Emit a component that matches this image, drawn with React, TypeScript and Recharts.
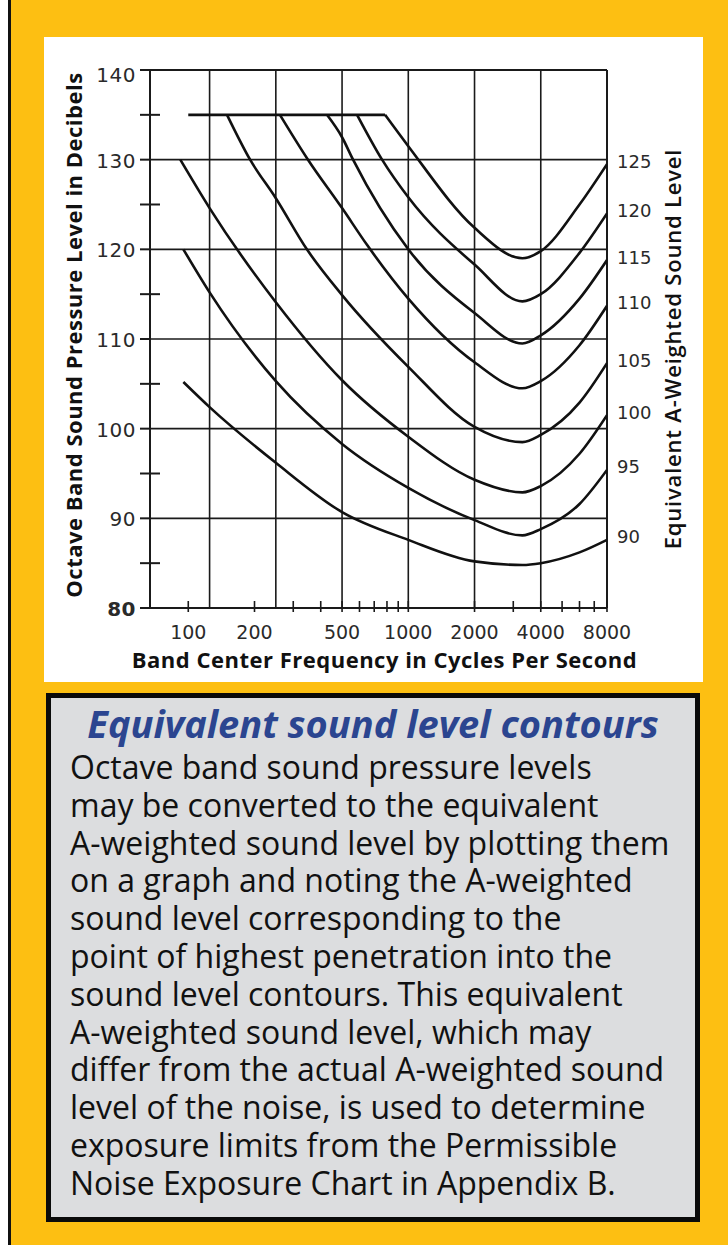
import { LineChart, Line, XAxis, YAxis, ReferenceLine, Label } from "recharts"

// octave band centres (vertical grid) and axis ticks
const bandCenters = [125, 250, 500, 1000, 2000, 4000, 8000]
const xTickValues = [100, 200, 300, 400, 500, 600, 700, 800, 900, 1000, 2000, 3000, 4000, 5000, 6000, 7000, 8000]
const xTickLabels = [100, 200, 500, 1000, 2000, 4000, 8000]
const yTickValues = [80, 85, 90, 95, 100, 105, 110, 115, 120, 125, 130, 135, 140]
const yGridValues = [90, 100, 110, 120, 130, 140]

// flat 135 dB ceiling shared by the upper contours
const ceiling = [
  { f: 100, db: 135 },
  { f: 784, db: 135 },
]

// contours, label = equivalent A-weighted level
const contour90 = [
  { f: 95, db: 105.2 }, { f: 125, db: 102.4 }, { f: 250, db: 96.2 }, { f: 500, db: 90.7 },
  { f: 1000, db: 87.6 }, { f: 2000, db: 85.2 }, { f: 3300, db: 84.8 }, { f: 4000, db: 85.0 },
  { f: 6000, db: 86.2 }, { f: 8000, db: 87.6 },
]
const contour95 = [
  { f: 95, db: 120 }, { f: 125, db: 115.2 }, { f: 250, db: 105.3 }, { f: 500, db: 98.3 },
  { f: 1000, db: 93.4 }, { f: 2000, db: 89.8 }, { f: 3300, db: 88.1 }, { f: 4000, db: 88.8 },
  { f: 6000, db: 91.6 }, { f: 8000, db: 95.4 },
]
const contour100 = [
  { f: 92, db: 130 }, { f: 125, db: 124.6 }, { f: 250, db: 114.1 }, { f: 500, db: 105.4 },
  { f: 1000, db: 99.1 }, { f: 2000, db: 94.3 }, { f: 3300, db: 92.9 }, { f: 4000, db: 93.6 },
  { f: 6000, db: 97.2 }, { f: 8000, db: 101.5 },
]
const contour105 = [
  { f: 150, db: 135 }, { f: 191, db: 130 }, { f: 250, db: 125.7 }, { f: 346, db: 120 },
  { f: 500, db: 114.9 }, { f: 1000, db: 106.9 }, { f: 2000, db: 100.2 }, { f: 3300, db: 98.5 },
  { f: 4000, db: 99.3 }, { f: 6000, db: 102.9 }, { f: 8000, db: 107.3 },
]
const contour110 = [
  { f: 261, db: 135 }, { f: 350, db: 130 }, { f: 500, db: 124.6 }, { f: 649, db: 120.5 },
  { f: 1000, db: 114.5 }, { f: 2000, db: 107.4 }, { f: 3300, db: 104.5 }, { f: 4000, db: 105.3 },
  { f: 6000, db: 109.3 }, { f: 8000, db: 113.7 },
]
const contour115 = [
  { f: 427, db: 135 }, { f: 500, db: 132.5 }, { f: 561, db: 130 }, { f: 1000, db: 120 },
  { f: 2000, db: 112.9 }, { f: 3300, db: 109.5 }, { f: 4000, db: 110.4 }, { f: 6000, db: 114.5 },
  { f: 8000, db: 118.8 },
]
const contour120 = [
  { f: 585, db: 135 }, { f: 760, db: 130 }, { f: 1000, db: 125.8 }, { f: 2000, db: 118.3 },
  { f: 3300, db: 114.2 }, { f: 4000, db: 115.0 }, { f: 6000, db: 119.6 }, { f: 8000, db: 124 },
]
const contour125 = [
  { f: 784, db: 135 }, { f: 1000, db: 131.5 }, { f: 2000, db: 122.4 }, { f: 3300, db: 119 },
  { f: 4000, db: 119.8 }, { f: 6000, db: 125 }, { f: 8000, db: 129.5 },
]

const contours = [
  { name: "90", data: contour90 },
  { name: "95", data: contour95 },
  { name: "100", data: contour100 },
  { name: "105", data: contour105 },
  { name: "110", data: contour110 },
  { name: "115", data: contour115 },
  { name: "120", data: contour120 },
  { name: "125", data: contour125 },
]

const bodyLines = [
  "Octave band sound pressure levels",
  "may be converted to the equivalent",
  "A-weighted sound level by plotting them",
  "on a graph and noting the A-weighted",
  "sound level corresponding to the",
  "point of highest penetration into the",
  "sound level contours. This equivalent",
  "A-weighted sound level, which may",
  "differ from the actual A-weighted sound",
  "level of the noise, is used to determine",
  "exposure limits from the Permissible",
  "Noise Exposure Chart in Appendix B.",
]

const INK = "#1a1a1a"
const tickFont = "'DejaVu Sans', sans-serif"
const titleFont = "'Open Sans', sans-serif"

function YTick(props: any) {
  const { x, y, payload } = props
  const v = payload.value
  const major = v % 10 === 0
  return (
    <g>
      <line x1={x - 10} x2={major ? x : x + 10} y1={y} y2={y} stroke={INK} strokeWidth={2} />
      {major && (
        <text
          x={x - 14}
          y={v === 140 ? y + 5 : y + 1}
          textAnchor="end"
          dominantBaseline="central"
          fontFamily={tickFont}
          fontSize={20}
          letterSpacing={0.5}
          fontWeight={v === 80 ? 700 : 400}
          fill="#2a2a2a"
        >
          {v}
        </text>
      )}
    </g>
  )
}

function XTick(props: any) {
  const { x, y, payload } = props
  const v = payload.value
  return (
    <g>
      <line x1={x} x2={x} y1={y - 7} y2={y + 4} stroke={INK} strokeWidth={1.6} />
      {xTickLabels.includes(v) && (
        <text
          x={x}
          y={y + 24}
          textAnchor="middle"
          dominantBaseline="central"
          fontFamily={tickFont}
          fontSize={19}
          fill="#2a2a2a"
        >
          {v}
        </text>
      )}
    </g>
  )
}

function LeftTitle(props: any) {
  const { x, y, height } = props.viewBox
  const cx = x - 17
  const cy = y + height / 2 - 4
  return (
    <text
      x={cx}
      y={cy}
      transform={`rotate(-90 ${cx} ${cy})`}
      textAnchor="middle"
      dominantBaseline="central"
      fontFamily={titleFont}
      fontSize={22}
      letterSpacing={0.5}
      fontWeight={700}
      fill="#111"
    >
      Octave Band Sound Pressure Level in Decibels
    </text>
  )
}

function RightTitle(props: any) {
  const { x, y, height } = props.viewBox
  const cx = x + 65
  const cy = y + height / 2 + 10
  return (
    <text
      x={cx}
      y={cy}
      transform={`rotate(-90 ${cx} ${cy})`}
      textAnchor="middle"
      dominantBaseline="central"
      fontFamily={titleFont}
      fontSize={22}
      letterSpacing={0.8}
      fontWeight={600}
      fill="#111"
    >
      Equivalent A-Weighted Sound Level
    </text>
  )
}

function BottomTitle(props: any) {
  const { x, y, width } = props.viewBox
  return (
    <text
      x={x + width / 2 + 6}
      y={y + 60}
      textAnchor="middle"
      fontFamily={titleFont}
      fontSize={22}
      letterSpacing={0.5}
      fontWeight={700}
      fill="#111"
    >
      Band Center Frequency in Cycles Per Second
    </text>
  )
}

function endLabel(name: string, last: number) {
  return (p: any) => {
    if (p.index !== last) return <g />
    return (
      <text
        x={p.x + 10}
        y={p.y - 3}
        dominantBaseline="central"
        fontFamily={tickFont}
        fontSize={18}
        fill="#2a2a2a"
      >
        {name}
      </text>
    )
  }
}

function ContourChart() {
  return (
    <LineChart width={659} height={645} margin={{ top: 33, right: 26, left: 46, bottom: 44 }}>
      <XAxis
        type="number"
        dataKey="f"
        scale="log"
        domain={[67, 8000]}
        allowDataOverflow
        ticks={xTickValues}
        interval={0}
        tick={<XTick />}
        tickLine={false}
        tickSize={0}
        tickMargin={0}
        height={30}
        axisLine={{ stroke: INK, strokeWidth: 2 }}
      >
        <Label content={<BottomTitle />} />
      </XAxis>
      <YAxis
        yAxisId="left"
        type="number"
        domain={[80, 140]}
        allowDataOverflow
        ticks={yTickValues}
        interval={0}
        tick={<YTick />}
        tickLine={false}
        tickSize={0}
        tickMargin={0}
        width={60}
        axisLine={{ stroke: INK, strokeWidth: 2 }}
      >
        <Label content={<LeftTitle />} />
      </YAxis>
      <YAxis
        yAxisId="right"
        orientation="right"
        type="number"
        domain={[80, 140]}
        tick={false}
        tickLine={false}
        axisLine={false}
        width={70}
      >
        <Label content={<RightTitle />} />
      </YAxis>

      {yGridValues.map((v) => (
        <ReferenceLine key={`h${v}`} yAxisId="left" y={v} stroke={INK} strokeWidth={v === 140 ? 2 : 1.6} />
      ))}
      {bandCenters.map((f) => (
        <ReferenceLine key={`v${f}`} yAxisId="left" x={f} stroke={INK} strokeWidth={f === 8000 ? 2 : 1.6} />
      ))}

      <Line
        yAxisId="left"
        data={ceiling}
        dataKey="db"
        type="linear"
        stroke="#111"
        strokeWidth={2.8}
        dot={false}
        isAnimationActive={false}
      />
      {contours.map((c) => (
        <Line
          key={c.name}
          yAxisId="left"
          data={c.data}
          dataKey="db"
          name={c.name}
          type="monotone"
          stroke="#111"
          strokeWidth={2.6}
          dot={false}
          label={endLabel(c.name, c.data.length - 1)}
          isAnimationActive={false}
        />
      ))}
    </LineChart>
  )
}

export default function App() {
  return (
    <div
      style={{
        position: "absolute",
        left: 0,
        top: 0,
        width: 728,
        height: 1245,
        background: "#fff",
        overflow: "hidden",
      }}
    >
      <div
        style={{
          position: "absolute",
          left: 8,
          top: 0,
          width: 720,
          height: 1245,
          background: "#FDBF12",
          borderLeft: "3px solid #111",
          boxSizing: "border-box",
        }}
      />
      <div style={{ position: "absolute", left: 44, top: 37, width: 659, height: 645, background: "#fff" }}>
        <ContourChart />
      </div>
      <div
        style={{
          position: "absolute",
          left: 46,
          top: 693,
          width: 654,
          height: 529,
          border: "5px solid #0a0a0a",
          background: "#DCDDDF",
          boxSizing: "border-box",
        }}
      />
      <div
        style={{
          position: "absolute",
          left: 46,
          top: 703,
          width: 654,
          textAlign: "center",
          fontFamily: titleFont,
          fontSize: 38,
          lineHeight: "40px",
          fontWeight: 700,
          fontStyle: "italic",
          color: "#2B4590",
          whiteSpace: "nowrap",
        }}
      >
        Equivalent sound level contours
      </div>
      <div
        style={{
          position: "absolute",
          left: 70,
          top: 748,
          fontFamily: titleFont,
          fontSize: 32,
          lineHeight: "37.8px",
          color: "#111",
          whiteSpace: "nowrap",
        }}
      >
        {bodyLines.map((l) => (
          <div key={l}>{l}</div>
        ))}
      </div>
    </div>
  )
}
